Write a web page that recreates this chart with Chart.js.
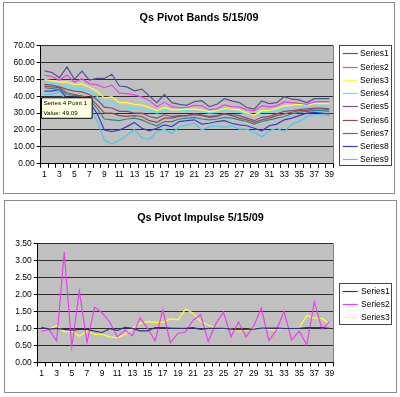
<!DOCTYPE html>
<html>
<head>
<meta charset="utf-8">
<script src="https://cdn.jsdelivr.net/npm/chart.js@4.4.1/dist/chart.umd.min.js"></script>
<style>
  html, body { margin: 0; padding: 0; background: #fff; }
  body { width: 400px; height: 397px; position: relative; overflow: hidden; }
  .box { position: absolute; border: 1px solid #8c8c8c; background: #fff; }
  #boxTop { left: 3px; top: 2px; width: 390px; height: 190px; }
  #boxBot { left: 4px; top: 200px; width: 391px; height: 191px; }
  canvas { display: block; }
</style>
</head>
<body>
<div class="box" id="boxTop"><canvas id="chartBands" width="390" height="190"></canvas></div>
<div class="box" id="boxBot"><canvas id="chartImpulse" width="391" height="191"></canvas></div>
<script>
// kategori sumbu X (1..39)
const categories = ['1','2','3','4','5','6','7','8','9','10','11','12','13','14','15','16','17','18','19','20',
  '21','22','23','24','25','26','27','28','29','30','31','32','33','34','35','36','37','38','39'];

// Qs Pivot Bands 5/15/09
const bandSeries1 = [55.0,54.0,51.0,57.3,50.0,54.8,49.5,50.5,50.5,53.0,46.0,45.5,43.2,44.2,40.0,36.2,41.0,36.2,35.2,34.6,
  36.8,37.3,33.8,35.2,38.5,37.2,36.2,33.3,32.3,37.2,35.6,36.2,39.7,38.2,37.8,36.2,38.5,38.5,38.5];
const bandSeries2 = [52.5,51.5,49.5,52.5,48.3,50.3,47.3,46.8,45.0,46.5,41.8,41.5,40.8,39.5,37.5,33.8,36.5,33.8,33.3,33.3,
  34.5,34.3,32.0,32.5,34.8,33.8,33.7,31.9,31.4,34.3,33.7,34.3,36.6,36.2,35.8,35.2,36.6,36.8,36.8];
const bandSeries3 = [49.8,49.2,48.3,48.3,46.9,47.3,45.3,43.0,38.8,39.7,36.2,36.2,35.2,34.7,33.3,31.4,33.3,31.9,31.9,32.3,
  32.3,31.9,30.8,31.4,32.7,32.3,31.9,30.0,28.8,31.4,31.4,32.7,34.3,34.7,35.2,34.9,35.6,35.8,35.6];
const bandSeries4 = [49.09,47.5,46.5,46.0,44.5,44.5,43.0,40.0,35.8,36.2,33.3,33.0,32.3,32.3,31.4,30.0,31.4,30.8,31.2,31.4,
  30.8,30.8,30.0,30.4,31.4,30.8,30.4,29.4,28.8,30.4,30.4,31.4,32.3,33.3,33.3,34.3,34.7,34.7,34.3];
const bandSeries5 = [47.0,46.5,45.5,44.0,43.0,42.5,41.0,38.0,33.5,33.0,31.0,31.0,30.0,30.0,28.0,27.0,29.0,28.0,28.5,28.5,
  29.0,28.5,27.5,28.0,29.5,29.0,28.5,27.0,25.5,27.5,28.0,29.5,31.0,31.5,32.0,32.5,33.0,33.0,32.5];
const bandSeries6 = [46.0,45.5,45.0,42.0,41.0,40.0,39.0,35.0,30.0,30.0,28.5,28.0,28.5,28.0,25.5,24.5,27.0,27.0,28.0,28.5,
  29.5,29.0,28.0,28.5,29.5,28.5,27.0,26.0,24.5,26.0,27.0,28.5,29.5,30.5,31.5,31.5,32.5,32.5,32.0];
const bandSeries7 = [45.0,44.5,44.0,41.0,40.5,40.0,38.0,33.0,26.5,26.0,25.5,26.5,27.0,26.0,24.0,22.5,25.0,25.0,26.5,27.0,
  27.5,26.5,26.0,26.5,27.5,27.0,26.0,25.0,23.5,25.0,26.0,27.0,28.0,29.5,30.5,31.0,31.5,31.5,31.0];
const bandSeries8 = [43.0,43.0,44.0,39.0,39.5,39.0,36.0,30.0,20.0,19.0,20.0,22.0,24.5,21.0,19.5,21.0,23.0,22.0,25.0,25.5,
  26.0,23.5,24.0,25.0,25.5,24.0,23.0,22.5,21.0,19.5,22.5,23.5,26.0,27.0,28.5,30.0,30.5,30.0,29.5];
const bandSeries9 = [41.0,41.0,43.0,36.5,37.5,37.0,33.0,25.5,14.0,11.7,14.0,16.9,20.2,15.4,14.4,18.9,20.5,17.9,22.0,23.0,
  24.0,20.0,22.0,22.5,21.5,22.5,20.5,20.5,18.5,16.0,19.5,21.0,19.0,23.5,25.0,28.0,29.0,29.0,28.5];

// Qs Pivot Impulse 5/15/09
const impulseSeries1 = [1.03,0.98,1.00,0.97,0.95,0.97,0.97,0.92,0.88,0.99,0.94,1.03,1.00,0.93,0.93,1.02,1.02,1.01,1.00,1.00,
  1.02,0.97,1.00,1.00,1.00,0.98,0.96,0.97,0.98,1.01,1.01,1.01,1.00,1.00,1.00,1.02,1.02,1.02,1.00];
const impulseSeries2 = [0.92,0.97,0.63,3.25,0.46,2.10,0.59,1.62,1.46,1.19,0.75,0.95,0.78,1.31,1.00,0.63,1.55,0.58,0.85,0.90,
  1.24,1.40,0.61,1.14,1.48,0.75,1.19,0.75,1.07,1.60,0.64,0.95,1.50,0.66,0.92,0.51,1.79,0.98,1.19];
const impulseSeries3 = [0.95,0.98,1.08,0.90,0.92,0.77,0.92,0.82,0.82,0.75,0.72,0.82,1.00,1.15,1.20,1.18,1.18,1.28,1.25,1.57,
  1.45,1.20,1.10,1.00,0.98,0.98,0.92,0.95,1.00,1.00,0.97,0.95,1.02,1.02,1.02,1.38,1.30,1.30,1.12];

const FONT = 'Arial, "Liberation Sans", sans-serif';
const warna = ['#52529a', '#ee3fee', '#ffff3c', '#3ef0f0', '#7e4c8c', '#9c4a4a', '#2a8a8a', '#3a3ad0', '#40ccf0'];

function garis(label, data, color) {
  return { label, data, borderColor: color, backgroundColor: color, borderWidth: 1.2,
           pointRadius: 0, pointHoverRadius: 0, tension: 0, fill: false };
}

// latar abu-abu area plot + garis tepi kanan
const plotBg = {
  id: 'plotBg',
  beforeDraw(chart) {
    const { ctx, chartArea: a } = chart;
    ctx.save();
    ctx.fillStyle = '#c0c0c0';
    ctx.fillRect(a.left, a.top, a.right - a.left, a.bottom - a.top);
    ctx.restore();
  },
  beforeDatasetsDraw(chart) {
    const { ctx, chartArea: a } = chart;
    ctx.save();
    ctx.strokeStyle = '#808080';
    ctx.lineWidth = 1;
    ctx.beginPath();
    ctx.moveTo(Math.round(a.right) + 0.5, a.top);
    ctx.lineTo(Math.round(a.right) + 0.5, a.bottom);
    ctx.stroke();
    ctx.restore();
  }
};

// legenda berbingkai ala Excel
const boxLegend = {
  id: 'boxLegend',
  afterDraw(chart, args, o) {
    const ctx = chart.ctx;
    ctx.save();
    ctx.fillStyle = '#fff';
    ctx.fillRect(o.x, o.y, o.w, o.h);
    ctx.strokeStyle = '#444';
    ctx.lineWidth = 1;
    ctx.strokeRect(o.x + 0.5, o.y + 0.5, o.w, o.h);
    ctx.font = '8.5px ' + FONT;
    ctx.textBaseline = 'middle';
    chart.data.datasets.forEach((ds, i) => {
      const cy = Math.round(o.firstY + i * o.rowH) + 0.5;
      ctx.strokeStyle = ds.borderColor;
      ctx.lineWidth = ds.borderWidth;
      ctx.beginPath();
      ctx.moveTo(o.lineX0, cy);
      ctx.lineTo(o.lineX1, cy);
      ctx.stroke();
      ctx.fillStyle = '#000';
      ctx.fillText(ds.label, o.textX, cy);
    });
    ctx.restore();
  }
};

Chart.Tooltip.positioners.pinned = function (elements) {
  if (!elements.length) return false;
  const el = elements[0].element;
  return { x: el.x - 3, y: el.y + 17 };
};

// leftW = lebar sumbu Y, rightW = ruang kosong untuk legenda
function opsi(title, titlePad, yMax, yStep, leftW, rightW, padBottom, legend, tooltip) {
  return {
    responsive: false,
    animation: false,
    events: [],
    layout: { padding: { left: 0, right: 0, top: 0, bottom: padBottom } },
    scales: {
      x: {
        offset: true,
        grid: { offset: true, drawOnChartArea: false, drawTicks: true, tickLength: 4, color: '#000' },
        border: { color: '#000', width: 1 },
        ticks: {
          autoSkip: false, maxRotation: 0, minRotation: 0, padding: 2, color: '#000',
          font: { size: 8.5, family: FONT },
          callback: (v, i) => (i % 2 === 0 ? categories[i] : '')
        }
      },
      y: {
        min: 0, max: yMax,
        grid: { color: '#2e2e2e', tickColor: '#000', tickLength: 4 },
        border: { color: '#000', width: 1 },
        ticks: {
          stepSize: yStep, padding: 2, color: '#000',
          font: { size: 8.5, family: FONT },
          callback: v => Number(v).toFixed(2)
        },
        afterFit: s => { s.width = leftW; }
      },
      ruangLegenda: {
        type: 'linear', position: 'right', display: true,
        grid: { display: false }, border: { display: false }, ticks: { display: false },
        afterFit: s => { s.width = rightW; }
      }
    },
    plugins: {
      legend: { display: false },
      title: {
        display: true, text: title, color: '#000',
        font: { size: 10.8, weight: 'bold', family: FONT },
        padding: titlePad
      },
      boxLegend: legend,
      tooltip: tooltip || { enabled: false }
    }
  };
}

const chartBands = new Chart(document.getElementById('chartBands'), {
  type: 'line',
  data: {
    labels: categories,
    datasets: [
      garis('Series1', bandSeries1, warna[0]),
      garis('Series2', bandSeries2, warna[1]),
      garis('Series3', bandSeries3, warna[2]),
      garis('Series4', bandSeries4, warna[3]),
      garis('Series5', bandSeries5, warna[4]),
      garis('Series6', bandSeries6, warna[5]),
      garis('Series7', bandSeries7, warna[6]),
      garis('Series8', bandSeries8, warna[7]),
      garis('Series9', bandSeries9, warna[8])
    ]
  },
  options: opsi('Qs Pivot Bands 5/15/09', { top: 8.5, bottom: 21 }, 70, 10, 36.7, 61, 11,
    { x: 335, y: 42, w: 52, h: 120, firstY: 50.3, rowH: 13.25, lineX0: 338.7, lineX1: 353.7, textX: 356 },
    {
      enabled: true, position: 'pinned', xAlign: 'left', yAlign: 'top',
      backgroundColor: '#ffffe1', borderColor: '#000', borderWidth: 1,
      titleColor: '#000', bodyColor: '#000',
      titleFont: { size: 6.2, weight: 'normal', family: FONT, lineHeight: 1.45 },
      bodyFont: { size: 6.2, family: FONT, lineHeight: 1.45 },
      titleMarginBottom: 1.5, padding: { top: 0.5, bottom: 0.5, left: 2, right: 5 },
      caretSize: 0, caretPadding: 0, cornerRadius: 0, displayColors: false,
      callbacks: {
        title: items => 'Series ' + (items[0].datasetIndex + 1) + ' Point ' + (items[0].dataIndex + 1),
        label: item => 'Value: ' + item.parsed.y.toFixed(2)
      }
    }),
  plugins: [plotBg, boxLegend]
});

// tooltip "Series 4 Point 1" seperti di gambar
chartBands.tooltip.setActiveElements([{ datasetIndex: 3, index: 0 }], { x: 40, y: 80 });
chartBands.update();

new Chart(document.getElementById('chartImpulse'), {
  type: 'line',
  data: {
    labels: categories,
    datasets: [
      garis('Series1', impulseSeries1, '#34347e'),
      garis('Series2', impulseSeries2, warna[1]),
      garis('Series3', impulseSeries3, warna[2])
    ]
  },
  options: opsi('Qs Pivot Impulse 5/15/09', { top: 10.2, bottom: 19.5 }, 3.5, 0.5, 32.7, 62.7, 11.5,
    { x: 334, y: 82, w: 52, h: 41, firstY: 90, rowH: 13.2, lineX0: 337.7, lineX1: 352.7, textX: 356 }),
  plugins: [plotBg, boxLegend]
});
</script>
</body>
</html>
